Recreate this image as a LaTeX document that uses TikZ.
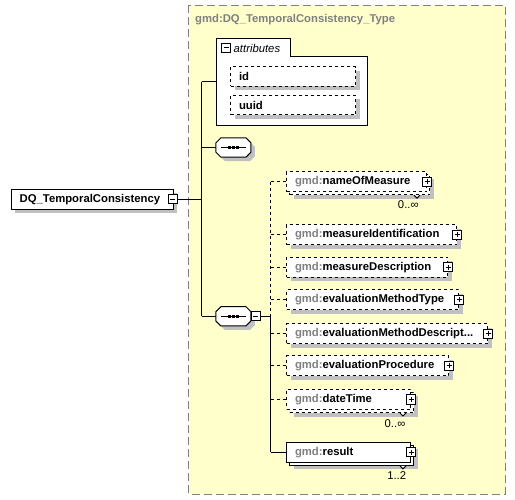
\documentclass[tikz,border=0pt]{standalone}
\usepackage{fontspec}
\setmainfont{Liberation Sans}
\usetikzlibrary{shadows,positioning}

\definecolor{typefill}{RGB}{255,255,204}
\definecolor{typeborder}{RGB}{128,128,128}
\definecolor{prefixgray}{RGB}{128,128,128}
\definecolor{shadowgray}{RGB}{192,192,192}

\newcommand{\gmd}[1]{\textcolor{prefixgray}{gmd:}#1}
% octagon of a sequence compositor, drawn round a named node
\newcommand{\seqsymbol}[1]{%
  \draw[fill=white, line width=1pt, boxshadow]
    ([xshift=5pt]#1.north west) -- ([xshift=-5pt]#1.north east) -- ([yshift=-5pt]#1.north east)
    -- ([yshift=5pt]#1.south east) -- ([xshift=-5pt]#1.south east) -- ([xshift=5pt]#1.south west)
    -- ([yshift=5pt]#1.south west) -- ([yshift=-5pt]#1.north west) -- cycle;
  \draw[line width=1pt] ([xshift=5pt]#1.west) -- ([xshift=-5pt]#1.east);
  \fill ([xshift=-5.5pt,yshift=-1.5pt]#1.center) rectangle +(3pt,3pt);
  \fill ([xshift=-1.5pt,yshift=-1.5pt]#1.center) rectangle +(3pt,3pt);
  \fill ([xshift=2.5pt,yshift=-1.5pt]#1.center) rectangle +(3pt,3pt);}

\tikzset{
  conn/.style={line width=1pt},
  boxshadow/.style={drop shadow={shadow xshift=4pt, shadow yshift=-4pt, fill=shadowgray, opacity=1}},
  stackshadow/.style={drop shadow={shadow xshift=7pt, shadow yshift=-7pt, fill=shadowgray, opacity=1},
    copy shadow={shadow xshift=3pt, shadow yshift=-3pt, fill=white, draw=black, line width=1pt, #1}},
  elem/.style={draw, fill=white, line width=1pt, minimum height=20pt, inner xsep=8.5pt, inner ysep=0pt,
    text width=#1, align=left, anchor=west, font=\fontsize{11.3}{13}\selectfont\bfseries},
  minusbox/.style={draw, fill=white, line width=1pt, minimum size=9pt, inner sep=0pt,
    path picture={\draw[line width=1pt] ([xshift=2pt]path picture bounding box.west) -- ([xshift=-2pt]path picture bounding box.east);}},
  plusbox/.style={draw, fill=white, line width=1pt, minimum size=9pt, inner sep=0pt,
    path picture={\draw[line width=1pt] ([xshift=2pt]path picture bounding box.west) -- ([xshift=-2pt]path picture bounding box.east);
      \draw[line width=1pt] ([yshift=-2pt]path picture bounding box.north) -- ([yshift=2pt]path picture bounding box.south);}},
  seqbox/.style={rectangle, minimum width=34.5pt, minimum height=19pt, inner sep=0pt},
  mult/.style={font=\fontsize{11.3}{13}\selectfont, inner sep=0pt},
  notch/.style={draw, fill=white, line width=1pt}
}

\begin{document}
\begin{tikzpicture}[x=1pt, y=-1pt]
  \useasboundingbox (0,0) rectangle (515,500);

  % complex type area
  \draw[typeborder, fill=typefill, line width=1pt, dash pattern=on 8pt off 4pt] (188.5,5.5) rectangle (505,494);
  \node[anchor=west, inner sep=0pt, text=prefixgray, font=\fontsize{11.3}{13}\selectfont\bfseries] (typename) at (195,19.5) {gmd:DQ\_TemporalConsistency\_Type};

  % attributes group
  \draw[fill=white, line width=1pt] (216,38.5) -- (290,38.5) -- (290,56.5) -- (367.5,56.5) -- (367.5,126) -- (216,126) -- cycle;
  \node[minusbox] (attrminus) at (226,48) {};
  \node[anchor=west, inner sep=0pt, font=\fontsize{11.3}{13}\selectfont\itshape] (attrlabel) at (233.5,48) {attributes};
  \node[elem=108, dashed, boxshadow, minimum height=19.5pt] (id) at (230,76.3) {id};
  \node[elem=108, dashed, boxshadow, minimum height=19.5pt] (uuid) at (230,105) {uuid};

  % root element
  \node[elem=145, boxshadow] (dq) at (10.7,199.3) {DQ\_TemporalConsistency};
  \node[minusbox] (dqminus) at ([xshift=-1pt]dq.east) {};

  % sequences
  \node[seqbox] (seq1) at (233.4,147.5) {};
  \node[seqbox] (seq2) at (233.4,316.3) {};
  \seqsymbol{seq1}
  \seqsymbol{seq2}
  \node[minusbox, anchor=west] (seqminus) at (seq2.east) {};

  % child elements
  \node[elem=123, dashed, stackshadow=dashed] (nameOfMeasure) at (286,181.7) {\gmd{nameOfMeasure}};
  \node[elem=153, dashed, boxshadow] (measureIdentification) at (286,234.7) {\gmd{measureIdentification}};
  \node[elem=144, dashed, boxshadow] (measureDescription) at (286,267.3) {\gmd{measureDescription}};
  \node[elem=155, dashed, boxshadow] (evaluationMethodType) at (286,300) {\gmd{evaluationMethodType}};
  \node[elem=184, dashed, boxshadow] (evaluationMethodDescription) at (286,333.7) {\gmd{evaluationMethodDescript...}};
  \node[elem=145, dashed, boxshadow] (evaluationProcedure) at (286,366) {\gmd{evaluationProcedure}};
  \node[elem=107, dashed, stackshadow=dashed] (dateTime) at (286,399.5) {\gmd{dateTime}};
  \node[elem=107, stackshadow=solid] (result) at (286,452.3) {\gmd{result}};

  \node[plusbox] (nameplus) at (nameOfMeasure.east) {};
  \node[plusbox] (identplus) at (measureIdentification.east) {};
  \node[plusbox] (descplus) at (measureDescription.east) {};
  \node[plusbox] (typeplus) at (evaluationMethodType.east) {};
  \node[plusbox] (methodplus) at (evaluationMethodDescription.east) {};
  \node[plusbox] (procplus) at (evaluationProcedure.east) {};
  \node[plusbox] (dateplus) at (dateTime.east) {};
  \node[plusbox] (resultplus) at (result.east) {};

  % occurrences
  \draw[notch] ([xshift=-13pt,yshift=-3pt]nameOfMeasure.south east) -- ++(3,3) -- ++(3,-3);
  \draw[notch] ([xshift=-11pt,yshift=-3pt]dateTime.south east) -- ++(3,3) -- ++(3,-3);
  \draw[notch] ([xshift=-11pt,yshift=-3pt]result.south east) -- ++(3,3) -- ++(3,-3);
  \node[mult] (nameocc) at (408.3,205) {0..∞};
  \node[mult] (dateocc) at (395,423.3) {0..∞};
  \node[mult] (resultocc) at (396.7,475.5) {1..2};

  % connectors
  \coordinate (trunkTop) at (201.5,82);
  \coordinate (trunkBot) at (201.5,316.3);
  \coordinate (attrs) at (216,82);
  \coordinate (branchTop) at (270.5,181.7);
  \coordinate (branchBot) at (270.5,452.3);

  \draw[conn] (trunkTop) -- (trunkBot);
  \draw[conn] (trunkTop) -- (attrs);
  \draw[conn] (dqminus.east) -- (dqminus.east -| trunkTop);
  \draw[conn] (seq1.west -| trunkTop) -- (seq1.west);
  \draw[conn] (trunkBot) -- (seq2.west);

  \draw[conn] (seqminus.east) -- (seqminus.east -| branchTop) -- (branchBot);
  \draw[conn, dashed] (branchTop) -- (seqminus.east -| branchTop);
  \draw[conn, dashed] (branchTop) -- (nameOfMeasure.west);
  \draw[conn, dashed] (measureIdentification.west -| branchTop) -- (measureIdentification.west);
  \draw[conn, dashed] (measureDescription.west -| branchTop) -- (measureDescription.west);
  \draw[conn, dashed] (evaluationMethodType.west -| branchTop) -- (evaluationMethodType.west);
  \draw[conn, dashed] (evaluationMethodDescription.west -| branchTop) -- (evaluationMethodDescription.west);
  \draw[conn, dashed] (evaluationProcedure.west -| branchTop) -- (evaluationProcedure.west);
  \draw[conn, dashed] (dateTime.west -| branchTop) -- (dateTime.west);
  \draw[conn] (branchBot) -- (result.west);
\end{tikzpicture}
\end{document}
